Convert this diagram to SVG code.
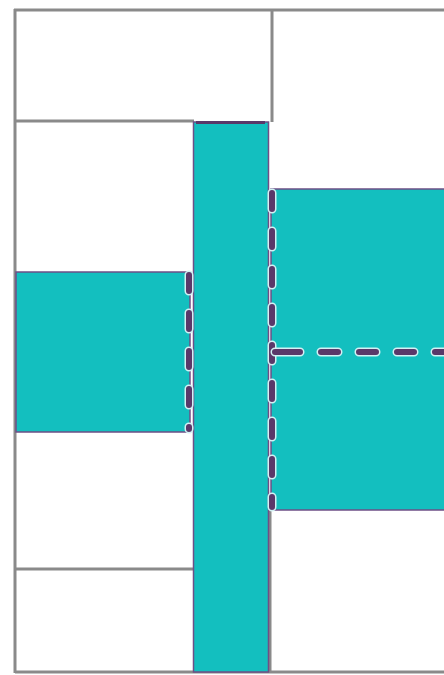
<svg xmlns="http://www.w3.org/2000/svg" width="444" height="675" viewBox="0 0 444 675">
<style>
.grid{stroke:#8a8a8a;stroke-width:3;fill:none}
.teal{fill:#13bfbf;stroke:#6e4f86;stroke-width:1.5}
.halo{stroke:#d2f2f4;stroke-width:9;fill:none;stroke-linecap:round}
.dash{stroke:#5a3869;stroke-width:6;fill:none;stroke-linecap:round}
</style>
<rect x="0" y="0" width="444" height="675" fill="#ffffff"/>
<g id="grid">
<path class="grid" d="M15 9 V673 M14 10 H444 M272 10 V122 M15 121 H194 M15 569 H194 M15 672 H444 M270 508 V672"/>
</g>
<g id="bar">
<rect class="teal" x="193.5" y="122" width="75" height="550"/>
<path d="M196 122.5 H265" stroke="#5a3869" stroke-width="3"/>
</g>
<g id="left-block">
<rect class="teal" x="16" y="272" width="174" height="160"/>
</g>
<g id="right-block">
<rect class="teal" x="271" y="189" width="175" height="321"/>
</g>
<g id="connectors">
<path class="halo" d="M189 275 V429" stroke-dasharray="16 22"/>
<path class="dash" d="M189 275 V429" stroke-dasharray="16 22"/>
<path class="halo" d="M272 193 V507" stroke-dasharray="16 22"/>
<path class="dash" d="M272 193 V507" stroke-dasharray="16 22"/>
<path class="halo" d="M275 352 H446" stroke-dasharray="25 21 17 21 17 21 17 21 17 21"/>
<path class="dash" d="M275 352 H446" stroke-dasharray="25 21 17 21 17 21 17 21 17 21"/>
</g>
</svg>
